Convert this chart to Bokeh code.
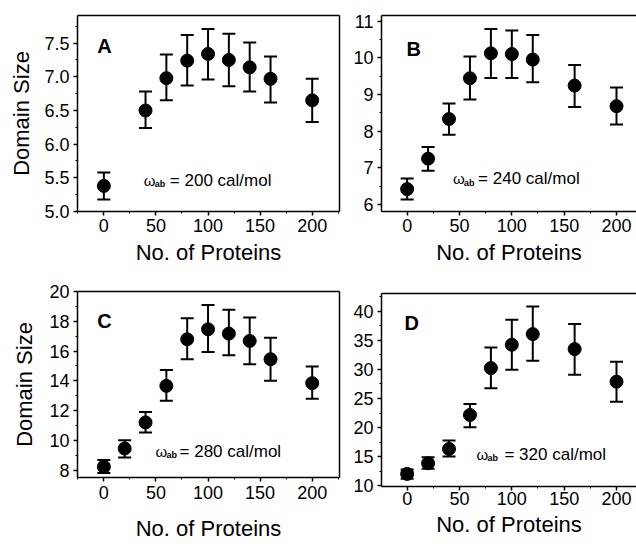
import numpy as np
from bokeh.plotting import figure
from bokeh.layouts import column, row
from bokeh.models import (ColumnDataSource, Whisker, TeeHead, Label, FixedTicker,
                          LinearAxis, Range1d, NumeralTickFormatter)
from bokeh.embed import file_html
from bokeh.resources import INLINE

# ---------------- data ----------------
proteins_A = [0, 40, 60, 80, 100, 120, 140, 160, 200]
size_A = [5.38, 6.50, 6.98, 7.24, 7.34, 7.25, 7.14, 6.97, 6.65]
low_A = [5.18, 6.24, 6.65, 6.87, 6.96, 6.86, 6.78, 6.62, 6.33]
high_A = [5.58, 6.78, 7.33, 7.62, 7.71, 7.64, 7.51, 7.30, 6.97]

proteins_B = [0, 20, 40, 60, 80, 100, 120, 160, 200]
size_B = [6.42, 7.25, 8.33, 9.44, 10.12, 10.10, 9.95, 9.24, 8.68]
low_B = [6.14, 6.92, 7.90, 8.86, 9.45, 9.45, 9.33, 8.66, 8.18]
high_B = [6.71, 7.57, 8.75, 10.03, 10.78, 10.74, 10.62, 9.80, 9.19]

proteins_C = [0, 20, 40, 60, 80, 100, 120, 140, 160, 200]
size_C = [8.22, 9.45, 11.20, 13.66, 16.79, 17.46, 17.17, 16.68, 15.45, 13.84]
low_C = [7.80, 8.85, 10.53, 12.65, 15.45, 15.94, 15.72, 15.11, 14.00, 12.79]
high_C = [8.67, 10.01, 11.90, 14.73, 18.20, 19.09, 18.78, 18.25, 16.90, 14.96]

proteins_D = [0, 20, 40, 60, 80, 100, 120, 160, 200]
size_D = [12.00, 13.84, 16.31, 22.16, 30.25, 34.27, 36.10, 33.52, 27.90]
low_D = [11.15, 12.87, 14.99, 20.04, 26.75, 29.97, 31.50, 29.10, 24.46]
high_D = [12.75, 14.88, 17.75, 24.05, 33.80, 38.57, 40.87, 37.83, 31.34]

x_ticks = [0, 50, 100, 150, 200]
y_ticks_A = [5.0, 5.5, 6.0, 6.5, 7.0, 7.5]
y_ticks_B = [6, 7, 8, 9, 10, 11]
y_ticks_C = [8, 10, 12, 14, 16, 18, 20]
y_ticks_D = [10, 15, 20, 25, 30, 35, 40]

panel_letters = ["A", "B", "C", "D"]
omega_values = ["200", "240", "280", "320"]
x_title = "No. of Proteins"
y_title = "Domain Size"

FONT = "Liberation Sans"
LIFT = 8  # label lift in screen pixels


def minor_of(ticks):
    t = np.asarray(ticks, dtype=float)
    step = t[1] - t[0]
    ext = np.concatenate([[t[0] - step], t, [t[-1] + step]])
    return list((ext[:-1] + ext[1:]) / 2.0)


def style_axis(ax):
    ax.axis_line_color = "black"
    ax.axis_line_width = 1.5
    ax.major_tick_line_color = "black"
    ax.major_tick_line_width = 1.5
    ax.minor_tick_line_color = "black"
    ax.minor_tick_line_width = 1
    ax.major_tick_out, ax.major_tick_in = 4, 0
    ax.minor_tick_out, ax.minor_tick_in = 2, 0
    ax.major_label_text_font = FONT
    ax.major_label_text_color = "black"
    ax.major_label_text_font_size = "18px"
    ax.axis_label_text_font = FONT
    ax.axis_label_text_font_size = "22px"
    ax.axis_label_text_font_style = "normal"
    ax.axis_label_text_color = "black"


def frame_edge(p, place):
    # plain frame line (no ticks, no labels)
    ax = LinearAxis(ticker=FixedTicker(ticks=[]))
    ax.axis_line_color = "black"
    ax.axis_line_width = 1.5
    ax.major_tick_out = 0
    ax.major_tick_in = 0
    ax.minor_tick_out = 0
    ax.minor_tick_in = 0
    ax.major_label_standoff = 0
    p.add_layout(ax, place)


def panel(x, y, lo, hi, yticks, yfmt, xr, yr, size, borders, ylabel,
          letter, letter_pos, omega, omega_pos, omega_gap, x_std, y_std, right_edge):
    w, h = size
    bl, br, bt, bb = borders
    p = figure(width=w, height=h, x_range=Range1d(*xr), y_range=Range1d(*yr),
               output_backend="svg", toolbar_location=None,
               min_border_left=bl, min_border_right=br,
               min_border_top=bt, min_border_bottom=bb)
    p.outline_line_color = None
    p.grid.visible = False
    p.background_fill_color = "white"
    p.border_fill_color = "white"

    xa = p.xaxis[0]
    xa.ticker = FixedTicker(ticks=x_ticks, minor_ticks=minor_of(x_ticks))
    style_axis(xa)
    xa.axis_label = x_title
    xa.major_label_standoff = x_std[0]
    xa.axis_label_standoff = x_std[1]

    ya = p.yaxis[0]
    ya.ticker = FixedTicker(ticks=yticks, minor_ticks=minor_of(yticks))
    ya.formatter = NumeralTickFormatter(format=yfmt)
    style_axis(ya)
    if ylabel:
        ya.axis_label = y_title
    ya.major_label_standoff = y_std[0]
    ya.axis_label_standoff = y_std[1]

    frame_edge(p, "above")
    if right_edge:
        frame_edge(p, "right")

    src = ColumnDataSource(dict(x=x, y=y, lo=lo, hi=hi))
    wk = Whisker(source=src, base="x", lower="lo", upper="hi",
                 line_color="black", line_width=2,
                 upper_head=TeeHead(size=13, line_color="black", line_width=2),
                 lower_head=TeeHead(size=13, line_color="black", line_width=2))
    p.add_layout(wk)
    p.scatter("x", "y", source=src, size=13, color="black")

    p.add_layout(Label(x=letter_pos[0], y=letter_pos[1], y_offset=LIFT, text=letter,
                       text_font=FONT, text_font_size="20px", text_font_style="bold",
                       text_color="black", text_baseline="alphabetic"))
    ox, oy = omega_pos
    p.add_layout(Label(x=ox, y=oy, y_offset=LIFT, text="ω", text_font=FONT,
                       text_font_size="15px",
                       text_color="black", text_baseline="alphabetic"))
    p.add_layout(Label(x=ox, y=oy, x_offset=11, y_offset=LIFT - 4, text="ab",
                       text_font=FONT, text_font_size="9px", text_font_style="bold",
                       text_color="black", text_baseline="alphabetic"))
    p.add_layout(Label(x=ox, y=oy, x_offset=omega_gap, y_offset=LIFT,
                       text="= " + omega + " cal/mol",
                       text_font=FONT, text_font_size="17px",
                       text_color="black", text_baseline="alphabetic"))
    return p


xr_left = (-25.3, 226.2)
xr_right = (-24.5, 219.1)

pA = panel(proteins_A, size_A, low_A, high_A, y_ticks_A, "0.0", xr_left, (5.0, 7.91),
           (349, 272), (77, 10, 15, 61), True, panel_letters[0], (-6.4, 7.343),
           omega_values[0], (38.4, 5.345), 26, (3, 5), (4, 7), True)
pB = panel(proteins_B, size_B, low_B, high_B, y_ticks_B, "0", xr_right, (5.81, 11.15),
           (287, 272), (32, 0, 15, 61), False, panel_letters[1], (-0.6, 10.02),
           omega_values[1], (43.9, 6.48), 25, (3, 5), (4, 8), False)
pC = panel(proteins_C, size_C, low_C, high_C, y_ticks_C, "0", xr_left, (7.5, 20.0),
           (349, 274), (77, 10, 19, 69), True, panel_letters[2], (-6.4, 17.46),
           omega_values[2], (49.6, 8.74), 24, (4, 14), (4, 9), True)
pD = panel(proteins_D, size_D, low_D, high_D, y_ticks_D, "0", xr_right, (9.83, 43.1),
           (287, 274), (32, 0, 21, 60), False, panel_letters[3], (-2.5, 36.68),
           omega_values[3], (66.2, 14.0), 28, (1, 4), (4, 8), False)

layout = column(row(column(pA), column(pB)), row(column(pC), column(pD)))

open("out.html", "w").write(file_html(layout, INLINE))
